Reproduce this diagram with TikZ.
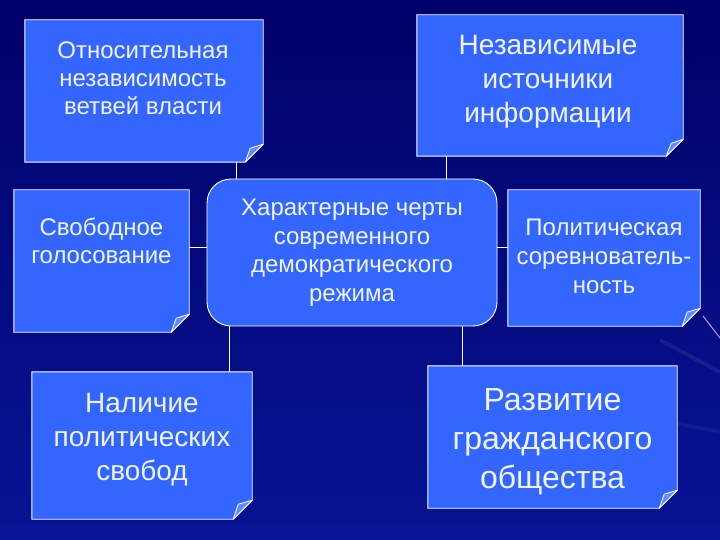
\documentclass[tikz,border=0pt]{standalone}
\usepackage{fontspec}
\setmainfont{Liberation Sans}
\usetikzlibrary{calc}
\definecolor{bgdark}{RGB}{0,2,105}
\definecolor{bglight}{RGB}{8,20,150}
\definecolor{boxblue}{RGB}{51,102,255}
\definecolor{flapblue}{RGB}{95,140,255}
\definecolor{txt}{RGB}{240,244,255}
\definecolor{streak}{RGB}{200,150,230}
\tikzset{
  holder/.style={draw=none, fill=none, inner sep=0pt, rectangle},
  boxtext/.style={text=txt, align=center, inner sep=0pt},
  link/.style={draw=white, line width=0.9pt},
  paper/.style={fill=boxblue, draw=white, line width=0.9pt, line join=miter},
  flap/.style={fill=flapblue, draw=white, line width=0.8pt, line join=round},
}
\newcommand\foldbox[2]{%
  \draw[paper] (#1.north west) -- (#1.north east) -- ($(#1.south east)+(0,-#2)$)
     -- ($(#1.south east)+(-#2,0)$) -- (#1.south west) -- cycle;
  \draw[flap] ($(#1.south east)+(-#2,0)$) -- ($(#1.south east)+(-#2+5,-#2+4)$)
     -- ($(#1.south east)+(0,-#2)$) -- cycle;
}
\begin{document}
\begin{tikzpicture}[x=1pt, y=-1pt]
  \useasboundingbox (0,0) rectangle (720,540);
  \shade[left color=bgdark, right color=bglight, shading angle=0] (0,0) rectangle (720,540);
  \fill[bgdark, opacity=0.5] (0,0) rectangle (720,60);
  \draw[streak, line width=1pt] (703,316) -- (720,338);
  \draw[white, opacity=0.07, line width=4pt] (660,340) -- (720,372);
  \draw[white, opacity=0.05, line width=4pt] (660,420) -- (720,432);

  % box holders
  \node[holder, minimum width=238pt, minimum height=142pt] (b1) at (144,91) {};
  \node[holder, minimum width=266pt, minimum height=141pt] (b2) at (550,85.5) {};
  \node[holder, minimum width=175pt, minimum height=142pt] (b3) at (101.5,261) {};
  \node[holder, minimum width=192pt, minimum height=136pt] (b4) at (604,258) {};
  \node[holder, minimum width=220pt, minimum height=147pt] (b5) at (142,445.5) {};
  \node[holder, minimum width=249pt, minimum height=142pt] (b6) at (552.5,437) {};

  % connector x/y references
  \coordinate (v1) at (236,0);
  \coordinate (v2) at (446,0);
  \coordinate (v5) at (229,0);
  \coordinate (v6) at (462,0);
  \coordinate (hh) at (0,247);

  % central node
  \node[paper, rounded corners=24pt, minimum width=290pt, minimum height=147pt,
        text=txt, align=center, inner sep=0pt,
        font=\fontsize{24}{28.5}\selectfont] (c) at (352,252.5)
        {Характерные черты\\современного\\демократического\\режима};

  % connectors
  \draw[link] (v1 |- b1.south) -- (v1 |- c.north);
  \draw[link] (v2 |- b2.south) -- (v2 |- c.north);
  \draw[link] (b3.east |- hh) -- (c.west |- hh);
  \draw[link] (c.east |- hh) -- (b4.west |- hh);
  \draw[link] (v5 |- c.south) -- (v5 |- b5.north);
  \draw[link] (v6 |- c.south) -- (v6 |- b6.north);

  % folded boxes
  \foldbox{b1}{18}
  \foldbox{b2}{17}
  \foldbox{b3}{18}
  \foldbox{b4}{18}
  \foldbox{b5}{19}
  \foldbox{b6}{18}

  % texts
  \node[boxtext, font=\fontsize{24}{28}\selectfont] (t1) at (143,78)
    {Относительная\\независимость\\ветвей власти};
  \node[boxtext, font=\fontsize{28}{34}\selectfont] (t2) at (548,82)
    {Независимые\\источники\\информации};
  \node[boxtext, font=\fontsize{24}{28}\selectfont] (t3) at (101.5,241)
    {Свободное\\голосование};
  \node[boxtext, font=\fontsize{24}{29}\selectfont] (t4) at (604,256)
    {Политическая\\соревнователь-\\ность};
  \node[boxtext, font=\fontsize{28}{34}\selectfont] (t5) at (142,440)
    {Наличие\\политических\\свобод};
  \node[boxtext, font=\fontsize{32}{39}\selectfont] (t6) at (552.5,442)
    {Развитие\\гражданского\\общества};
\end{tikzpicture}
\end{document}
